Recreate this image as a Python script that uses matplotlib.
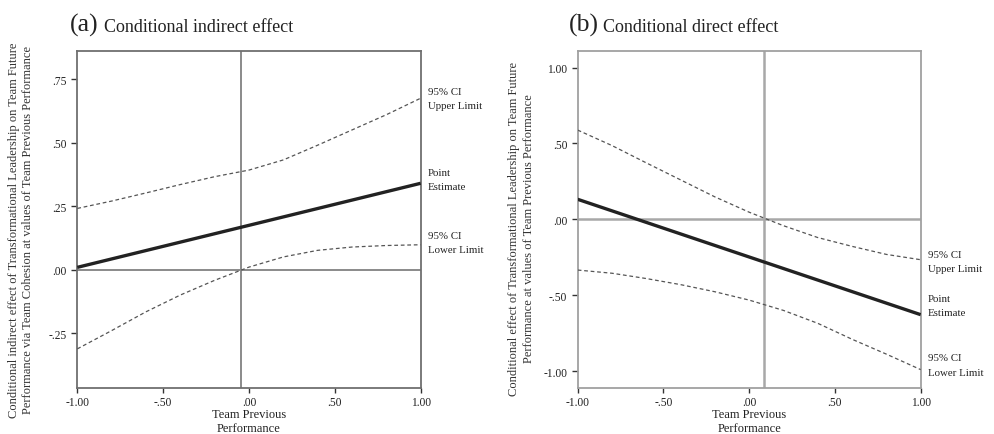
import matplotlib
matplotlib.use("Agg")
import matplotlib.pyplot as plt

plt.rcParams['font.family'] = ['Liberation Serif', 'DejaVu Serif']

# ---------------- data ----------------
x_grid = [-1.0, -0.8, -0.6, -0.4, -0.2, 0.0, 0.2, 0.4, 0.6, 0.8, 1.0]

# (a) conditional indirect effect
a_point_x = [-1.0, 1.0]
a_point = [0.009, 0.340]
a_upper = [0.241, 0.270, 0.302, 0.335, 0.366, 0.392, 0.432, 0.490, 0.550, 0.610, 0.675]
a_lower = [-0.312, -0.240, -0.166, -0.100, -0.042, 0.010, 0.050, 0.076, 0.089, 0.095, 0.098]
a_vline = -0.047

# (b) conditional direct effect
b_point_x = [-1.0, 1.0]
b_point = [0.132, -0.628]
b_upper = [0.588, 0.486, 0.372, 0.260, 0.148, 0.047, -0.042, -0.120, -0.178, -0.231, -0.266]
b_lower = [-0.334, -0.355, -0.390, -0.430, -0.477, -0.532, -0.600, -0.685, -0.790, -0.888, -0.990]
b_vline = 0.0865

xticks = [-1.0, -0.5, 0.0, 0.5, 1.0]
xtick_labels = ["-1.00", "-.50", ".00", ".50", "1.00"]
a_yticks = [-0.25, 0.0, 0.25, 0.50, 0.75]
a_ytick_labels = ["-.25", ".00", ".25", ".50", ".75"]
b_yticks = [-1.0, -0.5, 0.0, 0.5, 1.0]
b_ytick_labels = ["-1.00", "-.50", ".00", ".50", "1.00"]

a_ylabel = ("Conditional indirect effect of Transformational Leadership on Team Future\n"
            "Performance via Team Cohesion at values of Team Previous Performance")
b_ylabel = ("Conditional effect of Transformational Leadership on Team Future\n"
            "Performance at values of Team Previous Performance")
xlabel = "Team Previous\nPerformance"

# ---------------- figure ----------------
W, H = 994, 435
fig = plt.figure(figsize=(W / 100, H / 100), dpi=100)

def px_rect(l, t, r, b):
    return [l / W, 1 - b / H, (r - l) / W, (b - t) / H]

ax_a = fig.add_axes(px_rect(77.3, 51.7, 420.7, 389))
ax_b = fig.add_axes(px_rect(577.7, 51.7, 920.7, 389))

def style(ax, frame_col, ref_col, ref_lw, vline, ylim, yticks, ylabels):
    ax.set_xlim(-1, 1)
    ax.set_ylim(*ylim)
    for s in ax.spines.values():
        s.set_color(frame_col)
        s.set_linewidth(1.3)
    ax.axhline(0, color=ref_col, lw=ref_lw, zorder=1)
    ax.axvline(vline, color=ref_col, lw=ref_lw, zorder=1)
    ax.set_xticks(xticks)
    ax.set_xticklabels(xtick_labels, fontsize=8.3, color='#222222')
    ax.set_yticks(yticks)
    ax.set_yticklabels(ylabels, fontsize=8.3, color='#222222')
    ax.tick_params(axis='x', length=3.5, width=1, color='#333333', pad=2.5)
    ax.tick_params(axis='y', length=4.5, width=1, color='#333333', pad=3)

style(ax_a, '#6f6f6f', '#8a8a8a', 1.4, a_vline, (-0.466, 0.862),
      a_yticks, a_ytick_labels)
style(ax_b, '#a0a0a0', '#a8a8a8', 1.8, b_vline, (-1.111, 1.111),
      b_yticks, b_ytick_labels)

# x labels placed explicitly (second line sits at the bottom edge as in the reference)
for cx in [(77.3 + 420.7) / 2, (577.7 + 920.7) / 2]:
    fig.text(cx / W, 1 - 409 / H, xlabel, ha='center', va='top', fontsize=9,
             color='#222222', linespacing=1.25, multialignment='center')

# y labels placed explicitly
fig.text(21 / W, 1 - 230 / H, a_ylabel, rotation=90, ha='center', va='center',
         fontsize=9.0, color='#333333', linespacing=1.3, multialignment='center')
fig.text(521.5 / W, 1 - 229 / H, b_ylabel, rotation=90, ha='center', va='center',
         fontsize=9.0, color='#333333', linespacing=1.3, multialignment='center')

dash = (0, (3.0, 2.2))
for ax, px, pv, up, lo in [(ax_a, a_point_x, a_point, a_upper, a_lower),
                           (ax_b, b_point_x, b_point, b_upper, b_lower)]:
    ax.plot(x_grid, up, color='#555555', lw=0.9, linestyle=dash, zorder=3)
    ax.plot(x_grid, lo, color='#555555', lw=0.9, linestyle=dash, zorder=3)
    ax.plot(px, pv, color='#222222', lw=2.4, solid_capstyle='butt', zorder=4)

def side_label(ax, y, text):
    ax.annotate(text, xy=(1.0, y), xycoords=('axes fraction', 'data'),
                xytext=(5, 0), textcoords='offset points', ha='left', va='center',
                fontsize=7.8, color='#222222', linespacing=1.75, annotation_clip=False)

side_label(ax_a, a_upper[-1], "95% CI\nUpper Limit")
side_label(ax_a, a_point[-1] + 0.015, "Point\nEstimate")
side_label(ax_a, a_lower[-1] + 0.01, "95% CI\nLower Limit")
side_label(ax_b, b_upper[-1] - 0.01, "95% CI\nUpper Limit")
side_label(ax_b, b_point[-1] + 0.06, "Point\nEstimate")
side_label(ax_b, b_lower[-1] + 0.03, "95% CI\nLower Limit")

# panel titles
def title(xpx, letter, text):
    fig.text(xpx / W, 1 - 32 / H, letter, fontsize=18.5, color='#222222',
             ha='left', va='baseline')
    fig.text((xpx + 34) / W, 1 - 32 / H, text, fontsize=13, color='#222222',
             ha='left', va='baseline')

title(70, "(a)", "Conditional indirect effect")
title(569, "(b)", "Conditional direct effect")

fig.savefig("out.png", dpi=100)
